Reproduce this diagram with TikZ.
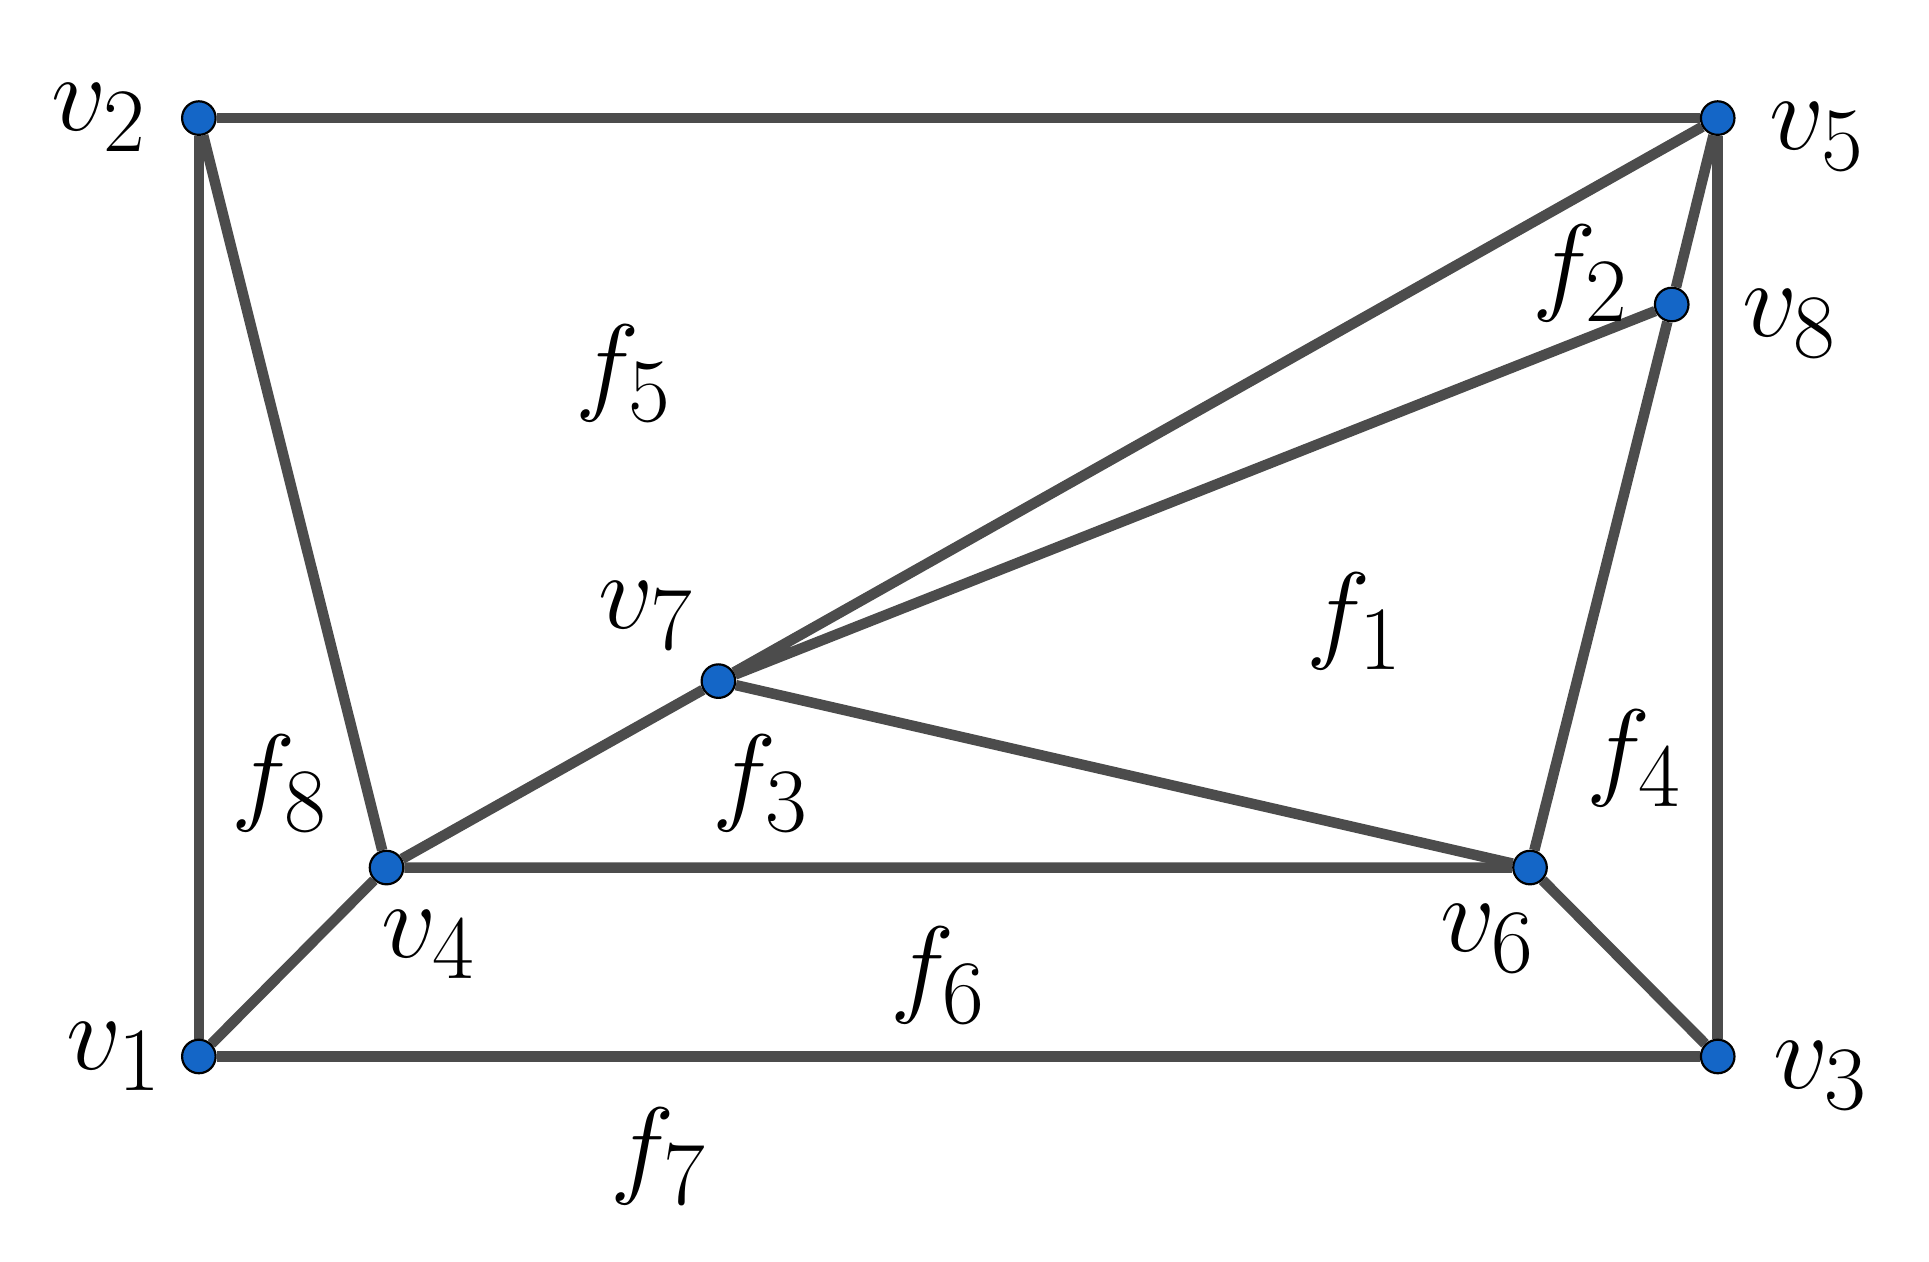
\documentclass[tikz,border=0pt]{standalone}
\usepackage{amsmath}
\usetikzlibrary{backgrounds}
\definecolor{vblue}{rgb}{0.08,0.4,0.78}
\definecolor{egray}{rgb}{0.3,0.3,0.3}
\tikzset{vert/.style={circle,fill=vblue,draw=black,line width=0.5pt,inner sep=0pt,minimum size=0.27cm},
	edge/.style={draw=egray,line width=2.4pt},
	lab/.style={font=\fontsize{32}{38}\selectfont}}
\begin{document}
\begin{tikzpicture}
		\useasboundingbox (0,0) rectangle (15.52,10.15);
		\node [vert](v1) at (1.6,1.65) {};
		\node [vert](v2) at (1.6,9.2) {};
		\node [vert](v3) at (13.82,1.65) {};
		\node [vert](v4) at (3.11,3.17) {};
		\node [vert](v5) at (13.82,9.2) {};
		\node [vert](v6) at (12.31,3.17) {};
		\node [vert](v7) at (5.78,4.67) {};
		\node [vert](v8) at (13.45,7.7) {};
		\begin{scope}[on background layer]
		\draw [edge] (v1) -- (v2) -- (v5) -- (v3) -- (v1);
		\draw [edge] (v2) -- (v4) -- (v1);
		\draw [edge] (v4) -- (v6) -- (v3);
		\draw [edge] (v4) -- (v7) -- (v5) -- (v8) -- (v6) -- (v7) -- (v8);
		\end{scope}
		\node [lab](lv1) at (0.92,1.65) {$v_1$};
		\node [lab](lv2) at (0.8,9.2) {$v_2$};
		\node [lab](lv3) at (14.65,1.5) {$v_3$};
		\node [lab](lv4) at (3.45,2.55) {$v_4$};
		\node [lab](lv5) at (14.62,9.05) {$v_5$};
		\node [lab](lv6) at (11.97,2.6) {$v_6$};
		\node [lab](lv7) at (5.2,5.2) {$v_7$};
		\node [lab](lv8) at (14.4,7.55) {$v_8$};
		\node [lab](f1) at (10.9,5.15) {$f_1$};
		\node [lab](f2) at (12.72,7.95) {$f_2$};
		\node [lab](f3) at (6.12,3.85) {$f_3$};
		\node [lab](f4) at (13.15,4.05) {$f_4$};
		\node [lab](f5) at (5.02,7.15) {$f_5$};
		\node [lab](f6) at (7.55,2.3) {$f_6$};
		\node [lab](f7) at (5.3,0.85) {$f_7$};
		\node [lab](f8) at (2.25,3.85) {$f_8$};
		\end{tikzpicture}
\end{document}
